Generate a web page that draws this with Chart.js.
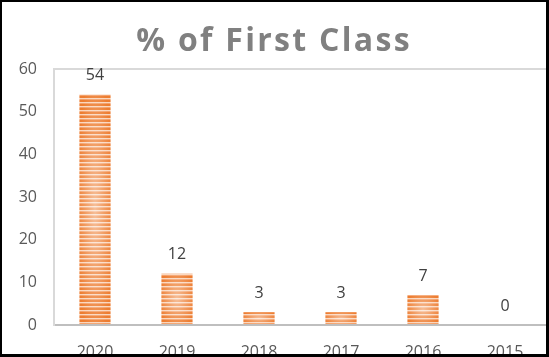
<!DOCTYPE html>
<html>
<head>
<meta charset="utf-8">
<script src="https://cdn.jsdelivr.net/npm/chart.js@4/dist/chart.umd.min.js"></script>
<style>
  html, body { margin: 0; padding: 0; background: #fff; }
  #wrap { width: 549px; height: 357px; position: relative; }
</style>
</head>
<body>
<div id="wrap"><canvas id="myChart" width="549" height="357"></canvas></div>
<script>
var years = ['2020', '2019', '2018', '2017', '2016', '2015'];
var firstClass = [54, 12, 3, 3, 7, 0];
var yTicks = [0, 10, 20, 30, 40, 50, 60];
var chartTitle = '% of First Class';

// striped orange fill
var pc = document.createElement('canvas');
pc.width = 4; pc.height = 4;
var pctx = pc.getContext('2d');
pctx.fillStyle = '#ED7D31'; pctx.fillRect(0, 0, 4, 2);
pctx.fillStyle = '#FAD6BD'; pctx.fillRect(0, 2, 4, 1);
pctx.fillStyle = '#F3A06A'; pctx.fillRect(0, 3, 4, 1);

var ctx = document.getElementById('myChart').getContext('2d');
var stripes = ctx.createPattern(pc, 'repeat');

var extras = {
    id: 'extras',
    beforeDraw: function(chart) {
        var c = chart.ctx;
        c.save();
        c.fillStyle = '#fff';
        c.fillRect(0, 0, chart.width, chart.height);
        c.restore();
    },
    afterDatasetsDraw: function(chart) {
        var c = chart.ctx;
        var meta = chart.getDatasetMeta(0);
        meta.data.forEach(function(bar, i) {
            var w = bar.width, h = bar.base - bar.y;
            if (h > 0) {
                // light center like a path gradient
                c.save();
                c.beginPath();
                c.rect(bar.x - w / 2, bar.y, w, h);
                c.clip();
                c.translate(bar.x, bar.y + h / 2);
                c.scale(w / 2, Math.max(h / 2, 1));
                var g = c.createRadialGradient(0, 0, 0, 0, 0, 1.2);
                g.addColorStop(0, 'rgba(255,255,255,0.5)');
                g.addColorStop(1, 'rgba(255,255,255,0)');
                c.fillStyle = g;
                c.fillRect(-1, -1, 2, 2);
                c.restore();
            }
            c.save();
            c.fillStyle = '#404040';
            c.font = '16px "Open Sans"';
            c.textAlign = 'center';
            c.textBaseline = 'middle';
            c.fillText(String(firstClass[i]), bar.x, bar.y - 19);
            c.restore();
        });
    },
    afterDraw: function(chart) {
        var c = chart.ctx;
        c.save();
        c.fillStyle = '#808080';
        c.font = 'bold 32px "Open Sans"';
        c.letterSpacing = '2.3px';
        c.textAlign = 'center';
        c.textBaseline = 'alphabetic';
        c.fillText(chartTitle, 274, 51);
        c.restore();
        // black frame
        c.save();
        c.fillStyle = '#000';
        c.fillRect(0, 0, chart.width, 2);
        c.fillRect(0, 0, 2, chart.height);
        c.fillRect(chart.width - 3, 0, 3, chart.height);
        c.fillRect(0, chart.height - 3, chart.width, 3);
        c.restore();
    }
};

var chart = new Chart(ctx, {
    type: 'bar',
    data: {
        labels: years,
        datasets: [{
            label: chartTitle,
            data: firstClass,
            backgroundColor: stripes,
            borderWidth: 0,
            barPercentage: 0.38,
            categoryPercentage: 1
        }]
    },
    options: {
        responsive: false,
        animation: false,
        layout: { padding: { top: 69, right: 3, left: 0, bottom: 0 } },
        plugins: {
            legend: { display: false },
            title: { display: false },
            tooltip: { enabled: false }
        },
        scales: {
            x: {
                grid: { color: 'rgba(0,0,0,0)', drawTicks: false },
                border: { color: '#BFBFBF', width: 2 },
                ticks: { color: '#595959', font: { family: 'Open Sans', size: 16 }, padding: 18, maxRotation: 0 },
                afterFit: function(s) { s.height = 32; }
            },
            y: {
                min: 0,
                max: 60,
                afterBuildTicks: function(s) { s.ticks = yTicks.map(function(v) { return { value: v }; }); },
                grid: {
                    drawTicks: false,
                    color: function(c) { return c.tick && c.tick.value === 60 ? '#D9D9D9' : 'rgba(0,0,0,0)'; },
                    lineWidth: 2
                },
                border: { color: '#D9D9D9', width: 2 },
                ticks: { color: '#595959', font: { family: 'Open Sans', size: 16 }, padding: 17 },
                afterFit: function(s) { s.width = 54; }
            }
        }
    },
    plugins: [extras]
});
</script>
</body>
</html>
